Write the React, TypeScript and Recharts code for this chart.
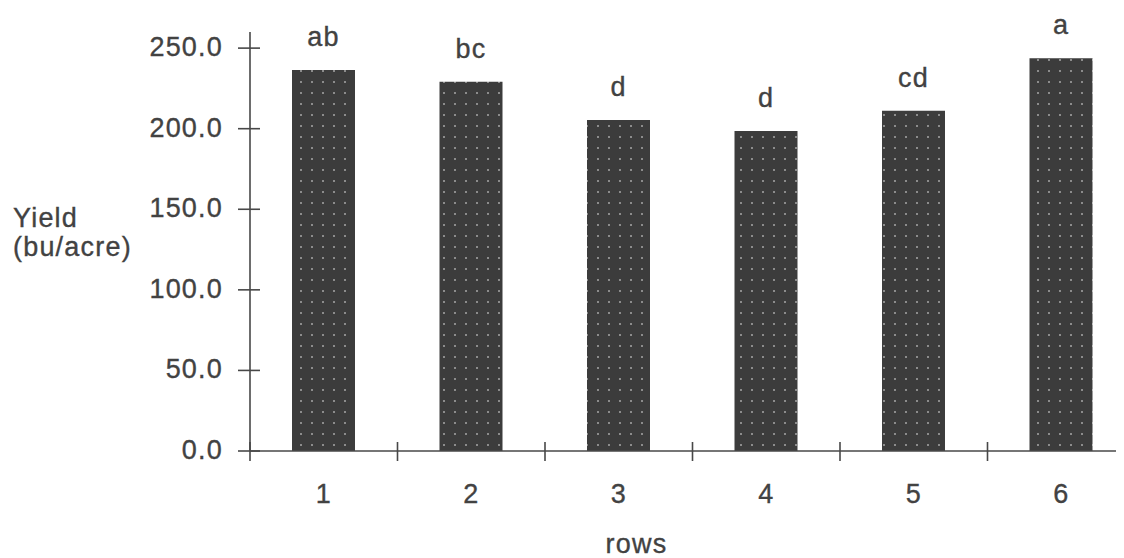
import { BarChart, Bar, XAxis, YAxis, LabelList, Label } from 'recharts';

const rows = ['1', '2', '3', '4', '5', '6'];
const yields = [236.4, 229.2, 205.4, 198.6, 211.2, 243.7];
const letters = ['ab', 'bc', 'd', 'd', 'cd', 'a'];
const yTicks = [0, 50, 100, 150, 200, 250];

const FONT = '"Liberation Sans", Arial, Helvetica, sans-serif';
const INK = '#424242';
const AXIS = '#484848';
const textStyle = {
  fontFamily: FONT,
  fontSize: 27,
  letterSpacing: 1.2,
  fill: INK,
  stroke: INK,
  strokeWidth: 0.35,
};

const data = rows.map((row, i) => ({ row, yield: yields[i], letter: letters[i] }));

function YTick(props: any) {
  const { x, y, payload } = props;
  const ax = x + 27;
  return (
    <g>
      <line x1={ax - 12} x2={ax + 10} y1={y} y2={y} stroke={AXIS} strokeWidth={1.6} />
      <text x={x} y={y} dy={8} textAnchor="end" style={textStyle}>
        {Number(payload.value).toFixed(1)}
      </text>
    </g>
  );
}

function XTick(props: any) {
  const { x, y, payload, index } = props;
  const half = payload?.offset || 73.75;
  return (
    <g>
      {index === 0 && (
        <line x1={x - half} x2={x - half} y1={y - 9} y2={y + 10} stroke={AXIS} strokeWidth={1.6} />
      )}
      <line x1={x + half} x2={x + half} y1={y - 9} y2={y + 10} stroke={AXIS} strokeWidth={1.6} />
      <text x={x} y={y} dy={52} textAnchor="middle" style={textStyle}>
        {payload.value}
      </text>
    </g>
  );
}

export default function App() {
  return (
    <div style={{ width: 1116, height: 550, overflow: 'hidden', background: '#fff' }}>
      <BarChart width={1130} height={550} data={data} margin={{ top: 24, right: 3, bottom: 0, left: 0 }}>
        <defs>
          <pattern id="dots" patternUnits="userSpaceOnUse" width={11} height={11} x={2} y={3}>
            <rect width={11} height={11} fill="#3c3c3c" />
            <rect x={4} y={4} width={2} height={2} fill="#8c8c8c" />
          </pattern>
        </defs>
        <XAxis
          dataKey="row"
          height={107}
          axisLine={{ stroke: AXIS, strokeWidth: 1.6 }}
          tickLine={false}
          tickSize={0}
          tickMargin={0}
          tick={XTick}
          interval={0}
        >
          <Label
            content={(p: any) => {
              const vb = p.viewBox || { x: 242, y: 443, width: 885 };
              return (
                <text x={vb.x + vb.width / 2 - 56} y={vb.y + 102} textAnchor="middle" style={textStyle}>
                  rows
                </text>
              );
            }}
          />
        </XAxis>
        <YAxis
          width={242}
          domain={[0, 260]}
          ticks={yTicks}
          axisLine={{ stroke: AXIS, strokeWidth: 1.6 }}
          tickLine={false}
          tickSize={0}
          tickMargin={27}
          tick={YTick}
          interval={0}
        >
          <Label
            content={(p: any) => {
              const vb = p.viewBox || { x: 0, y: 24 };
              return (
                <g>
                  <text x={vb.x + 5} y={219} style={textStyle}>Yield</text>
                  <text x={vb.x + 5} y={248} style={textStyle}>(bu/acre)</text>
                </g>
              );
            }}
          />
        </YAxis>
        <Bar dataKey="yield" fill="url(#dots)" barSize={63} isAnimationActive={false}>
          <LabelList dataKey="letter" position="top" offset={24} style={textStyle} />
        </Bar>
      </BarChart>
    </div>
  );
}
